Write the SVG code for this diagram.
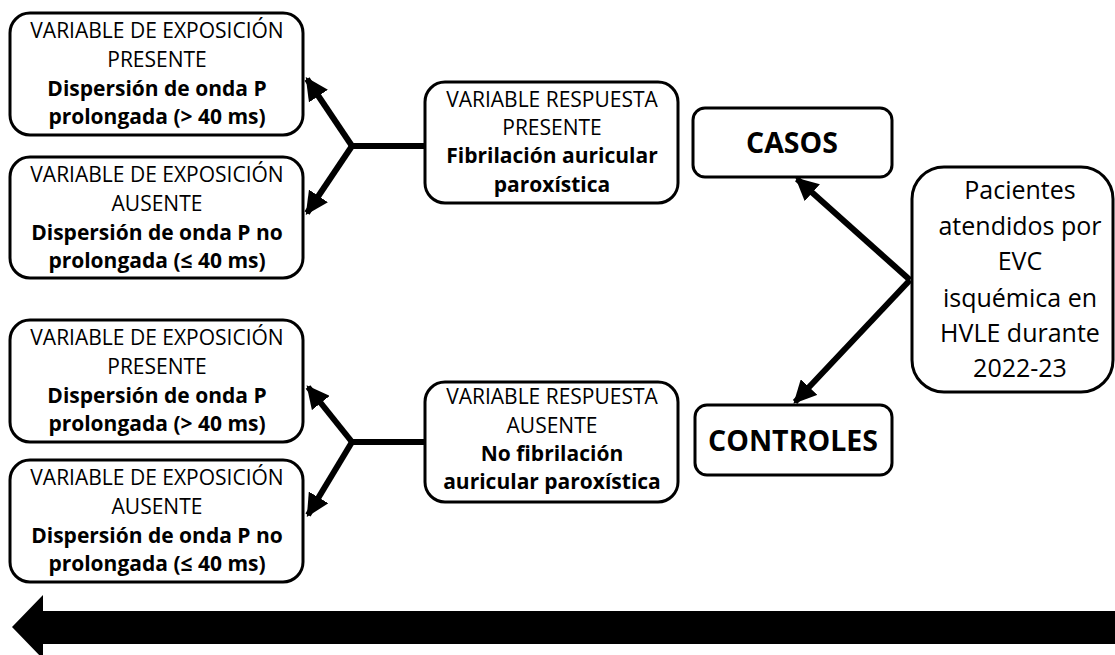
<svg xmlns="http://www.w3.org/2000/svg" width="1115" height="655" viewBox="0 0 1115 655">
<style>
.box{fill:#fff;stroke:#000;stroke-width:3}
.t{font-family:"Open Sans","Liberation Sans",sans-serif;font-size:21px;fill:#000;text-anchor:middle}
.b{font-weight:bold}
.big{font-family:"Open Sans","Liberation Sans",sans-serif;font-size:28.5px;font-weight:bold;fill:#000;text-anchor:middle}
.pac{font-family:"Open Sans","Liberation Sans",sans-serif;font-size:25px;fill:#000;text-anchor:middle}
.con{stroke:#000;stroke-width:6;fill:none;stroke-linecap:butt}
.arr{marker-end:url(#ah)}
</style>
<defs>
<marker id="ah" viewBox="0 0 10 10" refX="9" refY="5" markerWidth="3.8" markerHeight="3.8" orient="auto" markerUnits="strokeWidth">
<path d="M0,0 L10,5 L0,10 z" fill="#000"/>
</marker>
</defs>
<g id="exp1">
<rect class="box" x="10" y="13" width="293" height="122" rx="20"/>
<text class="t" x="157" y="38">VARIABLE DE EXPOSICIÓN</text>
<text class="t" x="157" y="67">PRESENTE</text>
<text class="t b" x="157" y="96">Dispersión de onda P</text>
<text class="t b" x="157" y="124">prolongada (&gt; 40 ms)</text>
</g>
<g id="exp2">
<rect class="box" x="10" y="157" width="293" height="121" rx="20"/>
<text class="t" x="157" y="182">VARIABLE DE EXPOSICIÓN</text>
<text class="t" x="157" y="211">AUSENTE</text>
<text class="t b" x="157" y="240">Dispersión de onda P no</text>
<text class="t b" x="157" y="268">prolongada (≤ 40 ms)</text>
</g>
<g id="exp3">
<rect class="box" x="10" y="320" width="293" height="122" rx="20"/>
<text class="t" x="157" y="345">VARIABLE DE EXPOSICIÓN</text>
<text class="t" x="157" y="374">PRESENTE</text>
<text class="t b" x="157" y="403">Dispersión de onda P</text>
<text class="t b" x="157" y="431">prolongada (&gt; 40 ms)</text>
</g>
<g id="exp4">
<rect class="box" x="10" y="460" width="293" height="122" rx="20"/>
<text class="t" x="157" y="485">VARIABLE DE EXPOSICIÓN</text>
<text class="t" x="157" y="514">AUSENTE</text>
<text class="t b" x="157" y="543">Dispersión de onda P no</text>
<text class="t b" x="157" y="571">prolongada (≤ 40 ms)</text>
</g>
<g id="resp1">
<rect class="box" x="425" y="82" width="253" height="121" rx="20"/>
<text class="t" x="552" y="107">VARIABLE RESPUESTA</text>
<text class="t" x="552" y="135">PRESENTE</text>
<text class="t b" x="552" y="163">Fibrilación auricular</text>
<text class="t b" x="552" y="192">paroxística</text>
</g>
<g id="resp2">
<rect class="box" x="425" y="382" width="253" height="120" rx="20"/>
<text class="t" x="552" y="404">VARIABLE RESPUESTA</text>
<text class="t" x="552" y="433">AUSENTE</text>
<text class="t b" x="552" y="461">No fibrilación</text>
<text class="t b" x="552" y="489">auricular paroxística</text>
</g>
<g id="casos">
<rect class="box" x="693" y="108" width="199" height="69" rx="12"/>
<text class="big" x="792" y="153">CASOS</text>
</g>
<g id="controles">
<rect class="box" x="695" y="405" width="197" height="70" rx="12"/>
<text class="big" x="793" y="451">CONTROLES</text>
</g>
<g id="pacientes">
<rect class="box" x="912" y="167" width="201" height="225" rx="32"/>
<text class="pac" x="1020" y="199">Pacientes</text>
<text class="pac" x="1020" y="235">atendidos por</text>
<text class="pac" x="1020" y="270">EVC</text>
<text class="pac" x="1020" y="307">isquémica en</text>
<text class="pac" x="1020" y="342">HVLE durante</text>
<text class="pac" x="1020" y="377">2022-23</text>
</g>
<g id="connectors">
<line class="con arr" x1="910" y1="280" x2="797" y2="179"/>
<line class="con arr" x1="910" y1="280" x2="795" y2="402"/>
<line class="con" x1="425" y1="146" x2="350" y2="146"/>
<line class="con arr" x1="352" y1="146" x2="307" y2="79"/>
<line class="con arr" x1="352" y1="146" x2="307" y2="213"/>
<line class="con" x1="425" y1="442" x2="350" y2="442"/>
<line class="con arr" x1="352" y1="442" x2="308" y2="387"/>
<line class="con arr" x1="352" y1="442" x2="308" y2="515"/>
<polygon points="12,627 43,595 43,611 1115,611 1115,644 43,644 43,659" fill="#000"/>
</g>
</svg>
